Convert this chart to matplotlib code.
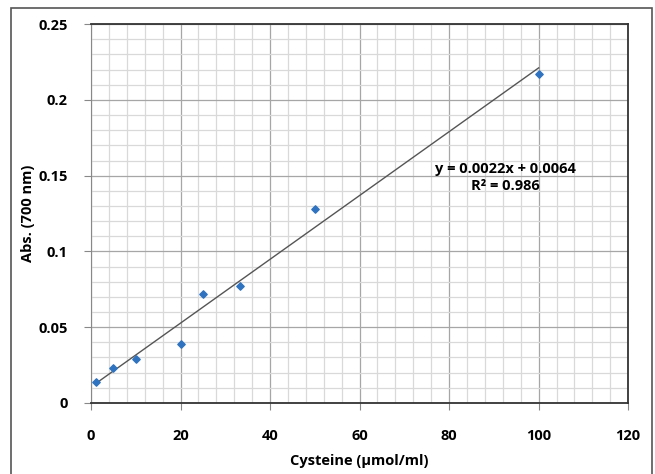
import numpy as np
import matplotlib.pyplot as plt
from matplotlib.patches import Rectangle
from matplotlib.ticker import MultipleLocator

# cysteine standard curve
conc = [1, 5, 10, 20, 25, 33.3, 50, 100]
absorb = [0.014, 0.023, 0.029, 0.039, 0.072, 0.077, 0.128, 0.217]
eq_text = "y = 0.0022x + 0.0064\nR² = 0.986"

plt.rcParams['font.family'] = ['Open Sans', 'DejaVu Sans']

fig = plt.figure(figsize=(6.55, 4.74), dpi=100)
ax = fig.add_axes([0.139, 0.150, 0.820, 0.799])

# outer frame like the Excel chart area
fig.patches.append(Rectangle((11/655, -0.02), 641/655, 1 - 8/474 + 0.02,
                             transform=fig.transFigure, fill=False,
                             edgecolor='#555555', linewidth=1.2))

ax.set_xlim(0, 120)
ax.set_ylim(0, 0.25)
ax.xaxis.set_major_locator(MultipleLocator(20))
ax.xaxis.set_minor_locator(MultipleLocator(4))
ax.yaxis.set_major_locator(MultipleLocator(0.05))
ax.yaxis.set_minor_locator(MultipleLocator(0.01))
ax.grid(which='major', color='#a6a6a6', linewidth=0.9)
ax.grid(which='minor', color='#d9d9d9', linewidth=0.9)
ax.set_axisbelow(True)

ax.set_xticks([0, 20, 40, 60, 80, 100, 120])
ax.set_xticklabels(['0', '20', '40', '60', '80', '100', '120'])
ax.set_yticks([0, 0.05, 0.1, 0.15, 0.2, 0.25])
ax.set_yticklabels(['0', '0.05', '0.1', '0.15', '0.2', '0.25'])
ax.tick_params(which='major', length=5, color='#888888', labelsize=10.5, pad=12)
ax.tick_params(which='minor', length=0)
for lab in ax.get_xticklabels() + ax.get_yticklabels():
    lab.set_fontweight('bold')
ax.tick_params(axis='x', pad=14)

for s in ['top', 'right', 'bottom']:
    ax.spines[s].set_color('#333333')
    ax.spines[s].set_linewidth(1.3)
ax.spines['left'].set_color('#888888')

# linear trendline
k, b = np.polyfit(conc, absorb, 1)
xl = np.array([min(conc), max(conc)])
ax.plot(xl, k * xl + b, color='#555555', linewidth=1.0, zorder=2)
ax.scatter(conc, absorb, marker='D', s=14, color='#2f73c0', zorder=3)

ax.text(92.5, 0.1487, eq_text, ha='center', va='center', fontsize=10.5,
        fontweight='bold', linespacing=1.25)

ax.set_xlabel('Cysteine (µmol/ml)', fontsize=10.5, fontweight='bold', labelpad=8)
ax.set_ylabel('Abs. (700 nm)', fontsize=10.5, fontweight='bold')
ax.yaxis.set_label_coords(-0.104, 0.5)

fig.savefig('out.png', dpi=100)
